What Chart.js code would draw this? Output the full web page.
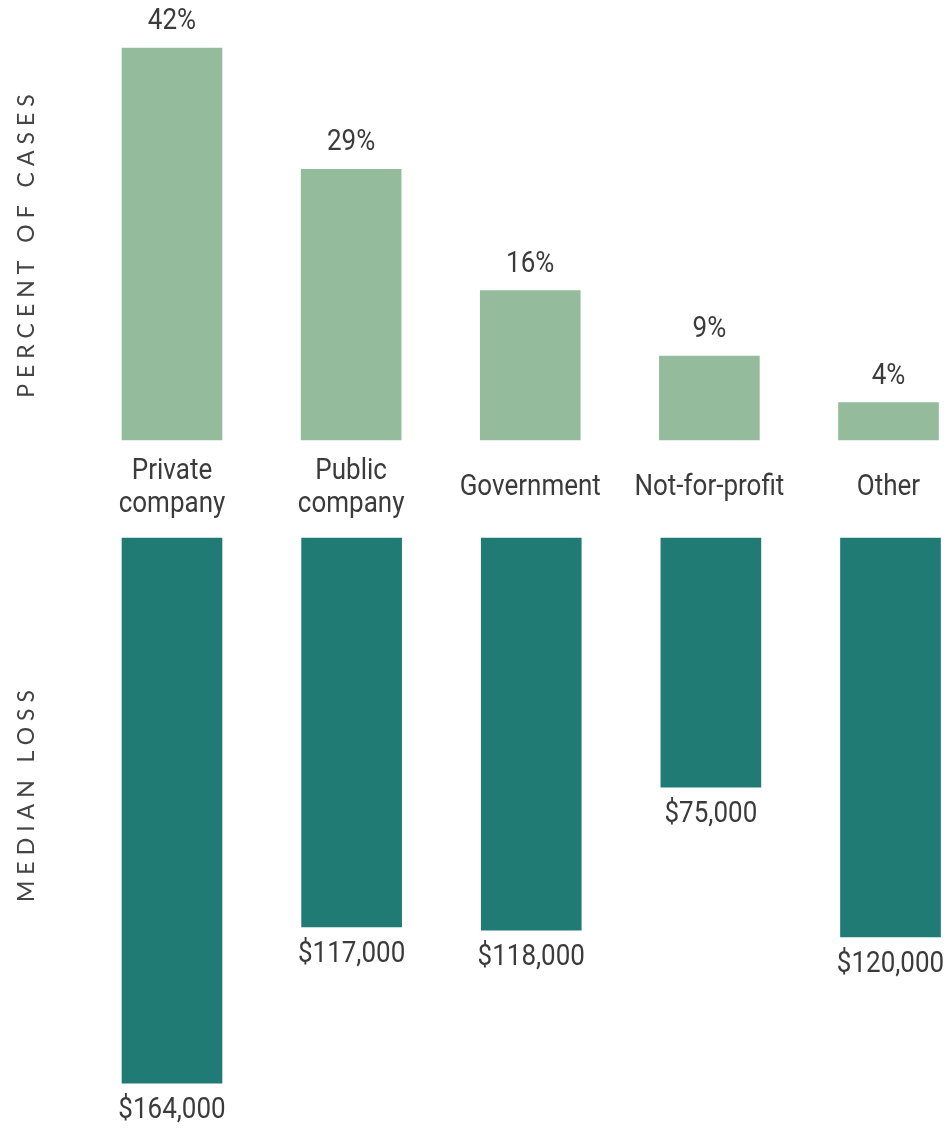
<!DOCTYPE html>
<html>
<head>
<meta charset="utf-8">
<script src="https://cdn.jsdelivr.net/npm/chart.js@4"></script>
<style>
  html, body { margin: 0; padding: 0; background: #fff; overflow: hidden; }
  .box { position: absolute; left: 0; width: 951px; }
  #topBox { top: 0; height: 530px; }
  #bottomBox { top: 530px; height: 600px; }
</style>
</head>
<body>
<div class="box" id="topBox"><canvas id="cases"></canvas></div>
<div class="box" id="bottomBox"><canvas id="loss"></canvas></div>
<script>
// data
var categories = [['Private', 'company'], ['Public', 'company'], ['Government'], ['Not-for-profit'], ['Other']];
var percentCases = [42, 29, 16, 9, 4];
var medianLoss = [164000, 117000, 118000, 75000, 120000];
var caseLabels = ['42%', '29%', '16%', '9%', '4%'];
var lossLabels = ['$164,000', '$117,000', '$118,000', '$75,000', '$120,000'];

var textColor = '#3b3b3b';
var font = '26px Roboto';

// text a little taller than wide, like the original
function tallText(ctx, t, x, y) {
  ctx.save();
  ctx.translate(x, y);
  ctx.scale(1, 1.1);
  ctx.fillText(t, 0, 0);
  ctx.restore();
}

// draws value labels, category names and the rotated axis title
function labelPlugin(opts) {
  return {
    id: 'labels_' + opts.title,
    afterDatasetsDraw: function (chart) {
      var ctx = chart.ctx;
      var meta = chart.getDatasetMeta(0);
      var xScale = chart.scales.x;
      ctx.save();
      ctx.fillStyle = textColor;
      ctx.font = font;
      ctx.textAlign = 'center';
      ctx.textBaseline = 'middle';
      meta.data.forEach(function (bar, i) {
        var y = opts.down ? bar.y + opts.gap : bar.y - opts.gap;
        tallText(ctx, opts.values[i], bar.x, y);
      });
      if (opts.cats) {
        var mid = chart.chartArea.bottom + 48;
        opts.cats.forEach(function (lines, i) {
          var x = xScale.getPixelForValue(i);
          var lh = 33;
          var start = mid - (lines.length - 1) * lh / 2;
          lines.forEach(function (t, j) {
            tallText(ctx, t, x, start + j * lh);
          });
        });
      }
      // axis title
      ctx.font = '23px Lato';
      ctx.fillStyle = '#444';
      ctx.letterSpacing = '6px';
      ctx.translate(27, opts.titleY);
      ctx.rotate(-Math.PI / 2);
      ctx.fillText(opts.title, 3, 0);
      ctx.restore();
    }
  };
}

var casesChart = new Chart(document.getElementById('cases'), {
  type: 'bar',
  data: {
    labels: categories,
    datasets: [{
      data: percentCases,
      backgroundColor: '#94bc9c',
      barThickness: 100,
      clip: false
    }]
  },
  options: {
    responsive: true,
    maintainAspectRatio: false,
    animation: false,
    layout: { padding: { top: 20, bottom: 90, left: 172, right: 62.5 } },
    plugins: { legend: { display: false }, tooltip: { enabled: false } },
    scales: {
      x: { display: false, offset: false },
      y: { display: false, min: 0, max: 45 }
    }
  },
  plugins: [labelPlugin({ values: caseLabels, gap: 26, down: false, cats: categories, title: 'PERCENT OF CASES', titleY: 246 })]
});

var lossChart = new Chart(document.getElementById('loss'), {
  type: 'bar',
  data: {
    labels: categories,
    datasets: [{
      data: medianLoss,
      backgroundColor: '#1f7b74',
      barThickness: 100,
      clip: false
    }]
  },
  options: {
    responsive: true,
    maintainAspectRatio: false,
    animation: false,
    layout: { padding: { top: 8, bottom: 27, left: 172, right: 60.5 } },
    plugins: { legend: { display: false }, tooltip: { enabled: false } },
    scales: {
      x: { display: false, offset: false },
      y: { display: false, min: 0, max: 170000, reverse: true }
    }
  },
  plugins: [labelPlugin({ values: lossLabels, gap: 28, down: true, title: 'MEDIAN LOSS', titleY: 266 })]
});
</script>
</body>
</html>
